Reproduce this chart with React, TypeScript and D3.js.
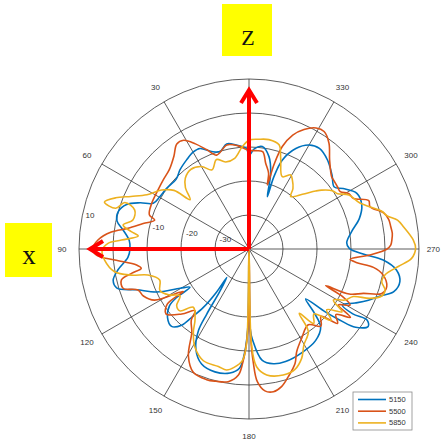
import React, { useEffect, useRef } from 'react';
import * as d3 from 'd3';

// polar pattern, angle in degrees (0 at top, counter-clockwise), value in dB
const spokeAngles = [0, 30, 60, 90, 120, 150, 180, 210, 240, 270, 300, 330];
const angleLabels = [30, 60, 90, 120, 150, 180, 210, 240, 270, 300, 330];
const ringValues = [-30, -20, -10, 0, 10];
const ringLabels = ['-30', '-20', '-10', '', '10'];
const seriesNames = ['5150', '5500', '5850'];
const seriesColors = ['#0072BD', '#D95319', '#EDB120'];

const s5150: [number, number][] = [
  [0, -12.5], [1.5, -10.4], [7, -9.2], [12, -8.4], [16.5, -10.1], [21, -9.3], [26, -7.1],
  [30, -7.1], [35, -8], [41, -9.1], [46, -10.3], [54, -9.9], [59.5, -9.6], [64.5, -8.8],
  [67, -5.2], [70, -1.7], [74, 0], [78, -0.3], [81.5, -2.6], [86, -4.7], [90, -5], [94, -4.3],
  [99, -1], [103, 1], [106.5, 0.5], [110, -4.9], [115, -10.1], [119.7, -16.7], [123, -19.3],
  [123.8, -14.4], [125.5, -11.3], [130, -8.7], [135, -7.8], [138.5, -10.1], [140, -13.7],
  [142, -18.2], [143, -24], [142, -29.4], [145.5, -24.7], [147, -17.2], [148.2, -11.8],
  [152, -6.7], [157.6, -3.4], [164.5, -2.5], [171.3, -3.1], [175.4, -4.8], [177.3, -8.6],
  [179, -16], [180, -40], [181, -16], [182.1, -13.5], [186.8, -7], [192, -5.5], [198, -5.2],
  [207.3, -5.8], [216, -6.7], [222.5, -8.8], [225.7, -13.3], [228.6, -17.8], [230.5, -10.8],
  [232, -6], [233.7, -1.1], [237, 1.8], [239, 0.5], [238, -4], [239, -8], [243, -5],
  [246.5, -2], [250.3, 1], [253.6, 4.4], [257.8, 5.4], [261.9, 3.8], [265.3, -0.4],
  [267.5, -6.4], [270.4, -10.5], [273.7, -11.2], [279.6, -9.4], [285.5, -6.3], [291.3, -4.4],
  [297.3, -4.3], [302.7, -7.1], [306, -9], [311.7, -7.3], [318.6, -5.1], [325, -3.9],
  [330, -4.7], [335, -7.4], [339.5, -12.1], [341, -17.5], [340.7, -23.7], [344, -16.9],
  [347.8, -12.2], [352.6, -9.6], [357, -10.5],
];

const s5500: [number, number][] = [
  [0, -11], [6, -9.5], [12, -8.7], [19, -10.8], [23, -8.3], [27, -5.3], [31, -2.7],
  [34.5, -2.5], [39, -4.9], [45, -6.9], [51, -7.6], [57, -8.1], [65, -8.4], [71, -9],
  [73, -11], [76.5, -8], [80.3, -3.9], [83, 0.8], [86.6, 4.5], [89.8, 5.9], [92.3, 4.9],
  [94.7, -0.4], [98.1, -6.6], [100.2, -7.8], [101.7, -4.7], [103.6, -1.4], [107.3, -1.2],
  [110.3, -5.2], [114, -6], [118.4, -8.4], [122, -16], [123, -17], [124, -11], [128, -9],
  [134, -12.5], [138.8, -15.9], [141, -13], [145.5, -10.3], [150.4, -3.9], [155.7, -0.2],
  [162, 0.4], [166, 0.1], [171.1, -0.5], [175.2, -2.8], [176.8, -6.3], [179, -15], [180, -40],
  [181, -15], [182.2, -6.4], [183.6, -0.9], [186.4, 2], [189.7, 2.6], [193.3, 1.6],
  [197.1, -0.7], [201.9, -3.7], [204.9, -6.7], [210.5, -9.5], [218, -11.7], [223, -9],
  [227, -11], [230, -6], [233, -8], [236, -4], [238, -9], [241, -6], [243, -9], [244.5, -15],
  [245.8, -7.7], [248.8, -3.9], [251.5, 1.2], [254.7, 2], [259, 0.2], [261.6, -3], [262.8, -8],
  [264.2, -10.1], [267.2, -4.4], [269.9, 0.5], [271.6, 1.7], [273.6, 2.1], [276.2, 2.4],
  [279, 2.2], [282, 2], [285, 1], [289.3, -2.3], [292, -2], [295.9, -5.9], [299, -6.4],
  [302.2, -8.3], [305, -8.2], [309.3, -7.9], [311.2, -7.7], [317.8, -4.7], [322.9, -1],
  [327.4, 1], [331, 0.7], [335.3, -1.3], [339, -4.1], [342, -8.3], [343.5, -14], [344, -20.4],
  [345.5, -17], [349, -14.3], [352, -11.1], [356, -11],
];

const s5850: [number, number][] = [
  [0, -8], [4, -10], [9, -13], [15, -13.5], [20, -12], [25, -14.3], [30, -12], [36, -11],
  [42, -12], [46, -14], [50, -17.4], [52, -12], [56, -9], [62, -6], [66, -2], [69, 2],
  [72, 4.7], [73, 1], [69.5, -1], [71.2, -4.5], [76, -4.8], [79.2, -2.3], [81.6, -5],
  [83.3, -7.2], [86, -2.4], [87.7, 1.5], [90.6, 3.2], [94.4, 2.6], [99.6, 0.1], [102.5, -4.5],
  [104.4, -9.3], [109.1, -12.2], [115.1, -11.1], [120, -13], [124.1, -15.5], [128, -13],
  [131.8, -12.7], [136.3, -16.3], [142.4, -14], [146.3, -10.5], [151.2, -7], [157.8, -4.5],
  [165.4, -4.3], [169.5, -3.8], [172.8, -4.9], [176.6, -7.1], [178.5, -12], [180, -40],
  [181.5, -12], [183.7, -5.3], [188, -2.6], [195.2, -1.6], [200.9, -2.1], [205.7, -4.3],
  [209.8, -7.5], [215.7, -10.1], [218, -16], [221, -11], [225, -13], [229, -8], [232, -11],
  [236, -7], [238.8, -11], [242, -8], [245.5, -6.3], [247.8, -1.6], [250.5, 1.4], [253.2, 1.8],
  [256.2, 0.2], [259.2, 0.7], [263.3, 4.2], [266.7, 7.9], [270.2, 9], [273.1, 8.4], [278, 6],
  [281, 4.5], [283.5, 1.8], [286, 0.5], [292.5, -4.7], [298.4, -6.6], [302, -9.3],
  [305, -10.1], [309, -12.5], [311, -14], [315.7, -17.5], [321.5, -20.3], [324, -18],
  [327.9, -16], [330.6, -15], [335.3, -16.6], [340.7, -11.8], [343.9, -8.1], [349.7, -7.3],
  [355, -7.6],
];

const seriesData = [s5150, s5500, s5850];

const W = 441;
const H = 446;
const cx = 249;
const cy = 249;
const R = 170;

const App: React.FC = () => {
  const svgRef = useRef<SVGSVGElement>(null);

  useEffect(() => {
    if (!svgRef.current) return;
    const svg = d3.select(svgRef.current);
    svg.selectAll('*').remove();

    const rScale = d3.scaleLinear().domain([-40, 10]).range([0, R]).clamp(true);
    const toXY = (deg: number, r: number): [number, number] => {
      const a = (deg * Math.PI) / 180;
      return [cx - r * Math.sin(a), cy - r * Math.cos(a)];
    };

    const grid = svg.append('g');
    ringValues.forEach(v => {
      grid.append('circle')
        .attr('cx', cx).attr('cy', cy).attr('r', rScale(v))
        .attr('fill', 'none').attr('stroke', '#333').attr('stroke-width', 0.8);
    });
    spokeAngles.forEach(a => {
      const [x, y] = toXY(a, R);
      grid.append('line')
        .attr('x1', cx).attr('y1', cy).attr('x2', x).attr('y2', y)
        .attr('stroke', '#333').attr('stroke-width', 0.8);
    });

    // angle labels
    angleLabels.forEach(a => {
      const [x, y] = toXY(a, R + 17);
      svg.append('text')
        .attr('x', a === 270 ? 440 : x).attr('y', y)
        .attr('text-anchor', a === 270 ? 'end' : 'middle')
        .attr('dominant-baseline', 'central')
        .attr('font-family', 'Liberation Sans, Arial, sans-serif')
        .attr('font-size', 8)
        .attr('fill', '#333')
        .text(a);
    });

    // radial labels along 80 deg
    ringValues.forEach((v, i) => {
      if (!ringLabels[i]) return;
      const [x, y] = toXY(80, rScale(v));
      svg.append('text')
        .attr('x', x + 4).attr('y', y - 1.5)
        .attr('font-family', 'Liberation Sans, Arial, sans-serif')
        .attr('font-size', 8)
        .attr('fill', '#333')
        .text(ringLabels[i]);
    });

    const line = d3.line<[number, number]>()
      .x(d => toXY(d[0], rScale(d[1]))[0])
      .y(d => toXY(d[0], rScale(d[1]))[1])
      .curve(d3.curveCatmullRomClosed.alpha(0.5));

    seriesData.forEach((data, i) => {
      svg.append('path')
        .attr('d', line(data))
        .attr('fill', 'none')
        .attr('stroke', seriesColors[i])
        .attr('stroke-width', 1.6)
        .attr('stroke-linejoin', 'round');
    });

    // red axis arrows
    const arrows = svg.append('g')
      .attr('stroke', '#ff0000').attr('stroke-width', 4).attr('fill', 'none')
      .attr('stroke-linejoin', 'miter');
    arrows.append('line').attr('x1', cx).attr('y1', cy).attr('x2', cx).attr('y2', 90);
    arrows.append('polyline').attr('points', `${cx - 8},${103} ${cx},${90} ${cx + 8},${103}`);
    arrows.append('line').attr('x1', cx).attr('y1', cy).attr('x2', 90).attr('y2', cy);
    arrows.append('polyline').attr('points', `${103},${cy - 8} ${90},${cy} ${103},${cy + 8}`);

    // legend
    const lg = svg.append('g').attr('transform', 'translate(353,392)');
    lg.append('rect').attr('width', 59).attr('height', 38)
      .attr('fill', '#fff').attr('stroke', '#8a8a8a').attr('stroke-width', 0.8);
    seriesNames.forEach((name, i) => {
      const y = 7.5 + i * 11.7;
      lg.append('line').attr('x1', 5).attr('x2', 33).attr('y1', y).attr('y2', y)
        .attr('stroke', seriesColors[i]).attr('stroke-width', 1.6);
      lg.append('text').attr('x', 36).attr('y', y).attr('dominant-baseline', 'central')
        .attr('font-family', 'Liberation Sans, Arial, sans-serif')
        .attr('font-size', 7.5).attr('fill', '#333').text(name);
    });

    // axis tags
    svg.append('rect').attr('x', 222).attr('y', 4).attr('width', 50).attr('height', 52).attr('fill', '#ffff00');
    svg.append('text').attr('x', 248).attr('y', 45).attr('text-anchor', 'middle')
      .attr('font-family', 'Liberation Serif, Times New Roman, serif').attr('font-size', 22)
      .attr('fill', '#111').text('Z');
    svg.append('rect').attr('x', 5).attr('y', 223).attr('width', 47).attr('height', 54).attr('fill', '#ffff00');
    svg.append('text').attr('x', 29).attr('y', 264).attr('text-anchor', 'middle')
      .attr('font-family', 'Liberation Serif, Times New Roman, serif').attr('font-size', 27)
      .attr('fill', '#111').text('x');
  }, []);

  return (
    <div style={{ position: 'fixed', left: 0, top: 0, width: W, height: H, background: '#fff' }}>
      <svg ref={svgRef} width={W} height={H} />
    </div>
  );
};

export default App;
